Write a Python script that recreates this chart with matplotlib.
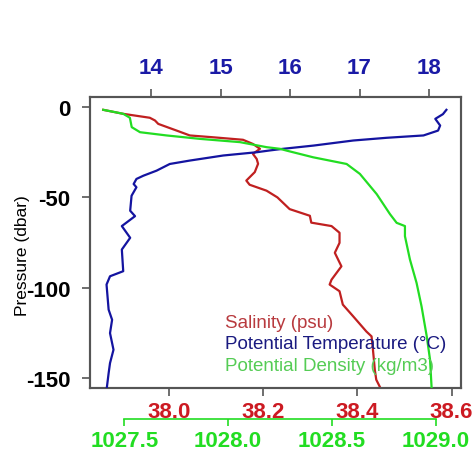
import numpy as np
import matplotlib
matplotlib.use("Agg")
import matplotlib.pyplot as plt

plt.rcParams['font.family'] = ['Liberation Sans', 'DejaVu Sans']
plt.rcParams['axes.unicode_minus'] = False

# pressure (dbar) / value pairs
temp_p = [-1.5, -3.9, -6.5, -10.2, -13.0, -15.7, -17.0, -18.5, -21.3, -23.1, -24.0, -25.0,
          -26.8, -29.6, -31.5, -35.2, -38.0, -39.8, -42.6, -44.4, -49.1, -57.4, -60.4,
          -65.9, -72.4, -78.9, -90.9, -93.7, -98.3, -112.2, -117.8, -125.2, -134.4,
          -141.8, -147.4, -156.7]
temp_v = [18.25, 18.20, 18.09, 18.16, 18.13, 17.92, 17.39, 16.91, 16.34, 15.90, 15.71, 15.52,
          15.04, 14.56, 14.27, 14.08, 13.89, 13.79, 13.75, 13.79, 13.72, 13.70, 13.77,
          13.58, 13.70, 13.58, 13.60, 13.41, 13.36, 13.39, 13.44, 13.41, 13.46,
          13.41, 13.39, 13.36]

sal_p = [-1.5, -3.7, -5.9, -7.4, -9.3, -13.0, -15.7, -16.7, -18.1, -20.4, -23.1, -25.9,
         -28.7, -31.4, -36.0, -40.7, -43.0, -46.3, -50.0, -56.5, -60.2, -64.0, -65.9,
         -69.6, -75.2, -80.7, -88.2, -95.6, -98.3, -102.0, -109.4, -115.9, -124.3,
         -127.0, -134.4, -145.6, -151.0, -156.7]
sal_v = [37.860, 37.902, 37.959, 37.970, 37.977, 38.016, 38.044, 38.093, 38.157, 38.178,
         38.193, 38.178, 38.186, 38.189, 38.182, 38.164, 38.171, 38.207, 38.230, 38.256,
         38.299, 38.302, 38.345, 38.362, 38.362, 38.352, 38.366, 38.345, 38.341, 38.362,
         38.369, 38.391, 38.419, 38.430, 38.433, 38.437, 38.440, 38.451]

dens_p = [-1.5, -3.7, -5.9, -11.1, -13.9, -15.7, -17.6, -19.4, -22.2, -23.1, -24.1, -27.8,
          -31.5, -37.0, -48.2, -59.3, -64.1, -65.9, -71.5, -84.4, -97.4, -110.4, -127.0,
          -140.0, -156.7]
dens_v = [1027.399, 1027.495, 1027.527, 1027.536, 1027.576, 1027.704, 1027.865, 1028.057,
          1028.186, 1028.250, 1028.282, 1028.410, 1028.571, 1028.635, 1028.716, 1028.780,
          1028.812, 1028.852, 1028.852, 1028.876, 1028.908, 1028.932, 1028.957, 1028.973,
          1028.981]

p_ticks = [0, -50, -100, -150]
t_ticks = [14, 15, 16, 17, 18]
s_ticks = [38.0, 38.2, 38.4, 38.6]
d_ticks = [1027.5, 1028.0, 1028.5, 1029.0]

c_sal = '#cc1a22'
c_temp = '#1a1aa6'
c_dens = '#22dd22'
frame = '#555555'

fig = plt.figure(figsize=(4.73, 4.56), dpi=100)
ax = fig.add_axes([90/473, 1-389/456, 371/473, 291/456])

# salinity on main axis (bottom)
ax.plot(sal_v, sal_p, color='#c02020', lw=1.6, zorder=3)
ax.set_xlim(37.832, 38.62)
ax.set_ylim(-155.6, 5.6)
ax.set_xticks(s_ticks)
ax.set_xticklabels(['%.1f' % s for s in s_ticks])
ax.set_yticks(p_ticks)
ax.tick_params(axis='x', colors=frame, labelcolor=c_sal, labelsize=16, length=6, width=1.2, pad=3)
ax.tick_params(axis='y', colors=frame, labelcolor='black', labelsize=16, length=6, width=1.2, pad=8)
for lab in ax.get_xticklabels() + ax.get_yticklabels():
    lab.set_fontweight('bold')
for sp in ax.spines.values():
    sp.set_color(frame)
    sp.set_linewidth(1.5)

# temperature on top
axt = ax.twiny()
axt.plot(temp_v, temp_p, color='#1414a0', lw=1.6, zorder=3)
axt.set_xlim(13.122, 18.46)
axt.set_xticks(t_ticks)
axt.tick_params(axis='x', colors=frame, labelcolor=c_temp, labelsize=16, length=6, width=1.2, pad=8)
for lab in axt.get_xticklabels():
    lab.set_fontweight('bold')
for sp in axt.spines.values():
    sp.set_color(frame)
    sp.set_linewidth(1.5)

# density on a second, offset bottom axis
axd = ax.twiny()
axd.plot(dens_v, dens_p, color='#22dd22', lw=1.6, zorder=3)
axd.set_xlim(1027.335, 1029.122)
axd.xaxis.set_ticks_position('bottom')
axd.xaxis.set_label_position('bottom')
axd.spines['bottom'].set_position(('outward', 22))
axd.spines['bottom'].set_bounds(1027.5, 1029.0)
axd.spines['bottom'].set_color(c_dens)
axd.spines['bottom'].set_linewidth(1.2)
for k in ['top', 'left', 'right']:
    axd.spines[k].set_visible(False)
axd.set_xticks(d_ticks)
axd.set_xticklabels(['%.1f' % d for d in d_ticks])
axd.tick_params(axis='x', colors=c_dens, labelcolor=c_dens, labelsize=16, length=5, width=1.2, pad=3)
for lab in axd.get_xticklabels():
    lab.set_fontweight('bold')

fig.text(22/473, 1-256/456, 'Pressure (dbar)', rotation=90, ha='center', va='center',
         fontsize=12.5, color='black')

leg_x = 225/473
fig.text(leg_x, 1-323/456, 'Salinity (psu)', color='#b83a3e', fontsize=13.5, va='center')
fig.text(leg_x, 1-345/456, 'Potential Temperature (\u00b0C)', color='#1a1a80', fontsize=13.5, va='center')
fig.text(leg_x, 1-367/456, 'Potential Density (kg/m3)', color='#55cc55', fontsize=13.5, va='center')

fig.savefig('out.png', dpi=100, facecolor='white')
